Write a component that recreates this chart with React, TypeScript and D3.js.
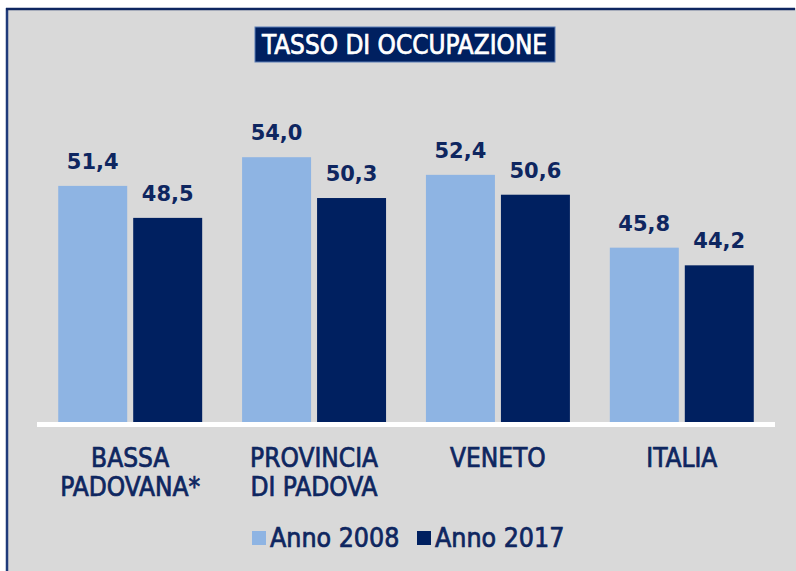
import React from "react";
import * as d3 from "d3";

const categories = ["BASSA|PADOVANA*", "PROVINCIA|DI PADOVA", "VENETO", "ITALIA"];
const series = ["Anno 2008", "Anno 2017"];
const values2008 = [51.4, 54.0, 52.4, 45.8];
const values2017 = [48.5, 50.3, 50.6, 44.2];
const yDomain = [30, 60];

const colors = ["#8EB4E3", "#002060"];
const textColor = "#0E2660";
const W = 796;
const H = 571;

export default function App() {
  const x0 = d3.scaleBand<string>().domain(categories).range([38, 774]).paddingInner(0.217).paddingOuter(0.11);
  const x1 = d3.scaleBand<string>().domain(series).range([0, x0.bandwidth()]).paddingInner(0.08);
  const y = d3.scaleLinear().domain(yDomain).range([422, 91]);
  const data = [values2008, values2017];
  const fmt = (v: number) => v.toFixed(1).replace(".", ",");
  const condensed = "'DejaVu Sans Condensed', 'DejaVu Sans', sans-serif";

  return (
    <svg width={W} height={H} style={{ position: "absolute", left: 0, top: 0, background: "#fff" }}>
      <rect x={6} y={8} width={W - 6} height={H - 8} fill="#D9D9D9" />
      <line x1={7} y1={8} x2={7} y2={H} stroke="#1F3A7A" strokeWidth={2.5} />
      <line x1={6} y1={9} x2={W - 1} y2={9} stroke="#0E2660" strokeWidth={2.5} />

      <rect x={255} y={27} width={300} height={35} fill="#002060" stroke="#5B7DB5" strokeWidth={1} />
      <text
        x={262}
        y={54}
        fill="#fff"
        fontFamily={condensed}
        fontStretch="condensed"
        fontSize={26}
        stroke="#fff"
        strokeWidth={0.7}
        textLength={285}
        lengthAdjust="spacingAndGlyphs"
      >
        TASSO DI OCCUPAZIONE
      </text>

      {categories.map((c, ci) => (
        <g key={c} transform={`translate(${x0(c)},0)`}>
          {series.map((s, si) => {
            const v = data[si][ci];
            const bx = x1(s)!;
            return (
              <g key={s}>
                <rect x={bx} y={y(v)} width={x1.bandwidth()} height={y(yDomain[0]) - y(v)} fill={colors[si]} />
                <text
                  x={bx + x1.bandwidth() / 2}
                  y={y(v) - 17}
                  textAnchor="middle"
                  fill={textColor}
                  fontFamily="'DejaVu Sans', sans-serif"
                  fontWeight="bold"
                  fontSize={21}
                >
                  {fmt(v)}
                </text>
              </g>
            );
          })}
          {c.split("|").map((line, li) => (
            <text
              key={li}
              x={x0.bandwidth() / 2}
              y={467 + li * 29}
              textAnchor="middle"
              fill={textColor}
              stroke={textColor}
              strokeWidth={0.7}
              fontFamily={condensed}
              fontStretch="condensed"
              fontSize={26}
            >
              {line}
            </text>
          ))}
        </g>
      ))}

      <line x1={37} x2={775} y1={424.5} y2={424.5} stroke="#fff" strokeWidth={5} />

      {series.map((s, si) => {
        const lx = si === 0 ? 252 : 417;
        return (
          <g key={s}>
            <rect x={lx} y={531} width={14} height={14} fill={colors[si]} />
            <text
              x={lx + 18}
              y={547}
              fill={textColor}
              stroke={textColor}
              strokeWidth={0.7}
              fontFamily={condensed}
              fontStretch="condensed"
              fontSize={26.5}
            >
              {s}
            </text>
          </g>
        );
      })}
    </svg>
  );
}
